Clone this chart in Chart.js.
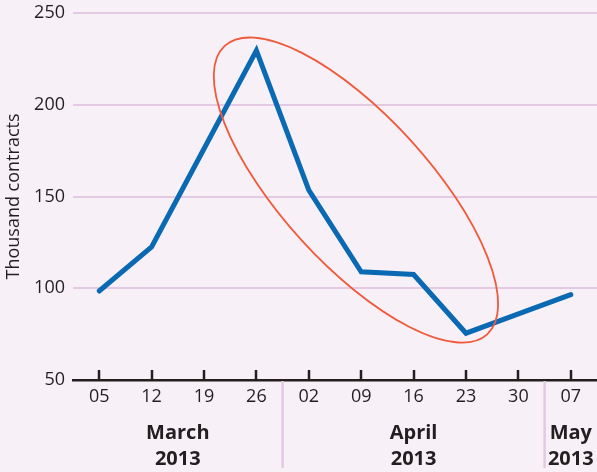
<!DOCTYPE html>
<html>
<head>
<meta charset="utf-8">
<script src="https://cdn.jsdelivr.net/npm/chart.js@4/dist/chart.umd.min.js"></script>
<style>
  html, body { margin: 0; padding: 0; background: #f7f0f7; }
  #wrap { width: 597px; height: 472px; position: relative; }
</style>
</head>
<body>
<div id="wrap"><canvas id="chart"></canvas></div>
<script>
// Weekly volume, thousand contracts
const weeks = ['05', '12', '19', '26', '02', '09', '16', '23', '30', '07'];
const contracts = [98.5, 122.5, 176, 229.5, 153.5, 109, 107.5, 75.5, 86, 96.5];
const yTicks = [50, 100, 150, 200, 250];

// Month groups under the week ticks (first and last week index of each)
const monthNames = [['March', '2013'], ['April', '2013'], ['May', '2013']];
const monthFirst = [0, 4, 9];
const monthLast = [3, 8, 9];

// Highlight ring around the spike and the fall-back
const ring = { centerIndex: 4.9, centerValue: 153.5, rx: 195, ry: 74, angleDeg: 47.7 };

const INK = '#231f20';
const GRID = '#e4c9e4';
const FONT = '"Open Sans", "Noto Sans", sans-serif';

const decorations = {
  id: 'decorations',
  beforeDraw(chart) {
    const { ctx, width, height } = chart;
    ctx.save();
    ctx.fillStyle = '#f7f0f7';
    ctx.fillRect(0, 0, width, height);
    ctx.restore();
  },
  afterDraw(chart) {
    const { ctx, chartArea } = chart;
    const xs = chart.scales.x;
    const ys = chart.scales.y;
    const base = chartArea.bottom;
    ctx.save();

    // upward tick marks on the baseline
    ctx.strokeStyle = INK;
    ctx.lineWidth = 2.5;
    weeks.forEach((w, i) => {
      const x = Math.round(xs.getPixelForValue(i));
      ctx.beginPath();
      ctx.moveTo(x, base);
      ctx.lineTo(x, base - 10);
      ctx.stroke();
    });

    // month separators
    ctx.strokeStyle = GRID;
    ctx.lineWidth = 2.5;
    for (let m = 0; m < monthFirst.length - 1; m++) {
      const x = (xs.getPixelForValue(monthLast[m]) + xs.getPixelForValue(monthFirst[m + 1])) / 2;
      ctx.beginPath();
      ctx.moveTo(x, base + 1);
      ctx.lineTo(x, base + 88);
      ctx.stroke();
    }

    // month labels
    ctx.fillStyle = INK;
    ctx.font = 'bold 20px ' + FONT;
    ctx.textAlign = 'center';
    ctx.textBaseline = 'alphabetic';
    monthNames.forEach((lines, m) => {
      const x = (xs.getPixelForValue(monthFirst[m]) + xs.getPixelForValue(monthLast[m])) / 2;
      ctx.fillText(lines[0], x, base + 59);
      ctx.fillText(lines[1], x, base + 85);
    });

    // highlight ring
    const cx = xs.getPixelForValue(ring.centerIndex);
    const cy = ys.getPixelForValue(ring.centerValue);
    ctx.strokeStyle = '#f05a3a';
    ctx.lineWidth = 1.8;
    ctx.beginPath();
    ctx.ellipse(cx, cy, ring.rx, ring.ry, ring.angleDeg * Math.PI / 180, 0, Math.PI * 2);
    ctx.stroke();

    ctx.restore();
  }
};

new Chart(document.getElementById('chart'), {
  type: 'line',
  data: {
    labels: weeks,
    datasets: [{
      data: contracts,
      borderColor: '#0a69b3',
      borderWidth: 5,
      pointRadius: 0,
      tension: 0,
      borderCapStyle: 'round',
      borderJoinStyle: 'miter',
      fill: false
    }]
  },
  options: {
    responsive: true,
    maintainAspectRatio: false,
    animation: false,
    devicePixelRatio: 1,
    layout: { padding: { top: 13, right: 0, bottom: 0, left: 0 } },
    plugins: { legend: { display: false }, tooltip: { enabled: false } },
    scales: {
      x: {
        type: 'category',
        offset: true,
        grid: { display: false, drawTicks: false },
        border: { display: true, color: INK, width: 2.5 },
        ticks: { color: INK, font: { family: FONT, size: 18 }, padding: 6, maxRotation: 0, autoSkip: false },
        afterFit(scale) { scale.height = 92; }
      },
      y: {
        min: 50,
        max: 250,
        afterBuildTicks(scale) { scale.ticks = yTicks.map(v => ({ value: v })); },
        grid: {
          drawTicks: false,
          lineWidth: 2,
          color: (c) => (c.tick && c.tick.value === 50 ? 'rgba(0,0,0,0)' : GRID)
        },
        border: { display: false },
        ticks: { color: INK, font: { family: FONT, size: 18 }, padding: 8 },
        title: {
          display: true,
          text: 'Thousand contracts',
          color: INK,
          font: { family: FONT, size: 18 },
          padding: { top: 3, bottom: 0 }
        },
        afterFit(scale) {
          scale.width = 73;
          scale.paddingTop = 0;
          scale.paddingBottom = 0;
        }
      }
    }
  },
  plugins: [decorations]
});
</script>
</body>
</html>
